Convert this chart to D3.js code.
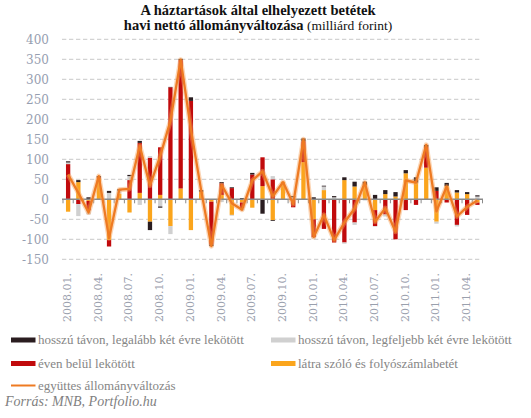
<!DOCTYPE html>
<html><head><meta charset="utf-8">
<script src="https://cdn.jsdelivr.net/npm/d3@7"></script>
<style>body{margin:0;background:#fff}svg{display:block}</style>
</head><body><svg id="c" width="531" height="418"></svg>
<script>
const months = ["2008.01.","2008.02.","2008.03.","2008.04.","2008.05.","2008.06.","2008.07.","2008.08.","2008.09.","2008.10.","2008.11.","2008.12.",
"2009.01.","2009.02.","2009.03.","2009.04.","2009.05.","2009.06.","2009.07.","2009.08.","2009.09.","2009.10.","2009.11.","2009.12.",
"2010.01.","2010.02.","2010.03.","2010.04.","2010.05.","2010.06.","2010.07.","2010.08.","2010.09.","2010.10.","2010.11.","2010.12.",
"2011.01.","2011.02.","2011.03.","2011.04.","2011.05."];
const tickLabels = ["2008.01.","2008.04.","2008.07.","2008.10.","2009.01.","2009.04.","2009.07.","2009.10.","2010.01.","2010.04.","2010.07.","2010.10.","2011.01.","2011.04."];
const yTicks = [-150,-100,-50,0,50,100,150,200,250,300,350,400];
// látra szóló és folyószámlabetét
const sight = [-31,43,-4,52,-102,14,-33,16,-56,11,-67,27,-77,19,-6,11,-39,-8,-21,33,-52,44,0,93,-50,23,0,48,32,36,-27,13,7,65,42,79,-56,33,17,13,-8];
// éven belül lekötött
const shortTerm = [88,-12,-24,3,-16,0,48,125,104,119,280,321,246,0,-107,29,28,-14,62,72,50,0,-20,52,-45,-74,-108,-108,-58,0,-40,-38,-100,-27,-14,52,21,-8,-64,-39,-6];
// hosszú távon, legfeljebb két évre lekötött
const longMax2 = [4,-30,-10,0,16,8,10,-14,4,-18,-20,0,0,0,0,-7,-2,-6,0,0,8,0,5,0,-3,9,5,-3,-6,-3,-1,-5,0,0,0,0,-5,0,-4,0,7];
// hosszú távon, legalább két évre lekötött
const longMin2 = [3,5,5,3,5,3,3,5,-21,-3,1,3,9,4,-4,3,2,3,4,-36,-2,0,3,7,5,2,3,7,12,8,11,10,11,8,13,5,9,8,6,5,3];
// együttes állományváltozás
const total = [62,16,-33,58,-97,24,26,134,34,108,196,349,175,23,-117,36,-10,-26,47,70,7,43,-12,150,-94,-39,-102,-58,-23,42,-56,-22,-81,47,42,136,-30,32,-43,-19,-3];

const seriesNames = {
  longMin2:"hosszú távon, legalább két évre lekötött",
  longMax2:"hosszú távon, legfeljebb két évre lekötött",
  shortTerm:"éven belül lekötött",
  sight:"látra szóló  és folyószámlabetét",
  total:"együttes állományváltozás"
};
const colors = {sight:"#fba51c", shortTerm:"#c10a0c", longMax2:"#d0d0d0", longMin2:"#2a1d20", line:"#ee7a22"};

const rows = months.map((m,i)=>({m, sight:sight[i], shortTerm:shortTerm[i], longMax2:longMax2[i], longMin2:longMin2[i], total:total[i]}));
const keys = ["sight","shortTerm","longMax2","longMin2"];
const stacked = d3.stack().keys(keys).offset(d3.stackOffsetDiverging)(rows);

const svg = d3.select("#c");
const x = d3.scaleBand().domain(months).range([63,482.5]).paddingInner(0.58).paddingOuter(0.29);
const y = d3.scaleLinear().domain([-150,400]).range([259.3,39.3]);
const step = x.step();
const bx0 = x(months[0]) - x.paddingOuter()*step;

const font = "'DejaVu Serif', Georgia, serif";

// title
const t = svg.append("text").attr("text-anchor","middle").attr("font-family","'Liberation Serif', serif").attr("fill","#111");
t.append("tspan").attr("x",258).attr("y",15).attr("font-size",14.5).attr("font-weight","bold").text("A háztartások által elhelyezett betétek");
const t2 = svg.append("text").attr("text-anchor","middle").attr("font-family","'Liberation Serif', serif").attr("fill","#111").attr("x",258).attr("y",29.5);
t2.append("tspan").attr("font-size",14.5).attr("font-weight","bold").text("havi nettó állományváltozása ");
t2.append("tspan").attr("font-size",13.5).text("(milliárd forint)");

// gridlines
svg.append("g").selectAll("line").data(yTicks.filter(v=>v!==0)).join("line")
  .attr("x1",62).attr("x2",480).attr("y1",d=>y(d)).attr("y2",d=>y(d))
  .attr("stroke","#c9c9c9").attr("stroke-width",1).attr("stroke-dasharray","4.3,2.7");

// y labels
svg.append("g").selectAll("text").data(yTicks).join("text")
  .attr("x",49).attr("y",d=>y(d)).attr("dy","0.36em").attr("text-anchor","end")
  .attr("font-family",font).attr("font-size",12).attr("fill","#969eb0").text(d=>d);

// bars
svg.append("g").selectAll("g").data(stacked).join("g").attr("fill",d=>colors[d.key])
  .selectAll("rect").data(d=>d).join("rect")
  .attr("x",d=>x(d.data.m)).attr("width",x.bandwidth())
  .attr("y",d=>y(Math.max(d[0],d[1]))).attr("height",d=>Math.abs(y(d[0])-y(d[1])));

// zero axis
svg.append("line").attr("x1",62).attr("x2",483).attr("y1",y(0)).attr("y2",y(0)).attr("stroke","#8a8a8a").attr("stroke-width",1.5);
svg.append("g").selectAll("line").data(d3.range(months.length+1)).join("line")
  .attr("x1",i=>bx0+i*step).attr("x2",i=>bx0+i*step).attr("y1",y(0)).attr("y2",y(0)+4)
  .attr("stroke","#8a8a8a").attr("stroke-width",1);

// line
const line = d3.line().x(d=>x(d.m)+x.bandwidth()/2).y(d=>y(d.total));
svg.append("path").datum(rows).attr("d",line).attr("fill","none").attr("stroke","#f6a25a").attr("stroke-opacity",0.45).attr("stroke-width",5).attr("stroke-linejoin","round");
svg.append("path").datum(rows).attr("d",line).attr("fill","none").attr("stroke",colors.line).attr("stroke-width",2.3).attr("stroke-linejoin","round");

// x labels
svg.append("g").selectAll("text").data(tickLabels).join("text")
  .attr("transform",d=>`translate(${x(d)+x.bandwidth()/2-1},273) rotate(-90)`)
  .attr("dy","0.36em").attr("text-anchor","end")
  .attr("font-family",font).attr("font-size",11).attr("fill","#9aa0ad").text(d=>d);

// legend
const lg = svg.append("g").attr("font-family","'Liberation Serif', serif").attr("font-size",13).attr("fill","#858585");
const items = [
  {k:"longMin2",x:11,y:340,type:"rect"},
  {k:"longMax2",x:271,y:340,type:"rect"},
  {k:"shortTerm",x:11,y:363.5,type:"rect"},
  {k:"sight",x:271,y:363.5,type:"rect"},
  {k:"total",x:11,y:385.5,type:"line"}
];
items.forEach(it=>{
  if(it.type==="rect"){
    lg.append("rect").attr("x",it.x).attr("y",it.y-2.5).attr("width",24.5).attr("height",5).attr("fill",colors[it.k]);
  } else {
    lg.append("line").attr("x1",it.x).attr("x2",it.x+24.5).attr("y1",it.y).attr("y2",it.y).attr("stroke",colors.line).attr("stroke-width",2);
  }
  lg.append("text").attr("x",it.x+27).attr("y",it.y).attr("dy","0.33em").text(seriesNames[it.k]);
});
svg.append("text").attr("x",5).attr("y",406).attr("font-family","'Liberation Serif', serif").attr("font-style","italic")
  .attr("font-size",14).attr("fill","#7f7f7f").text("Forrás: MNB, Portfolio.hu");
</script></body></html>
